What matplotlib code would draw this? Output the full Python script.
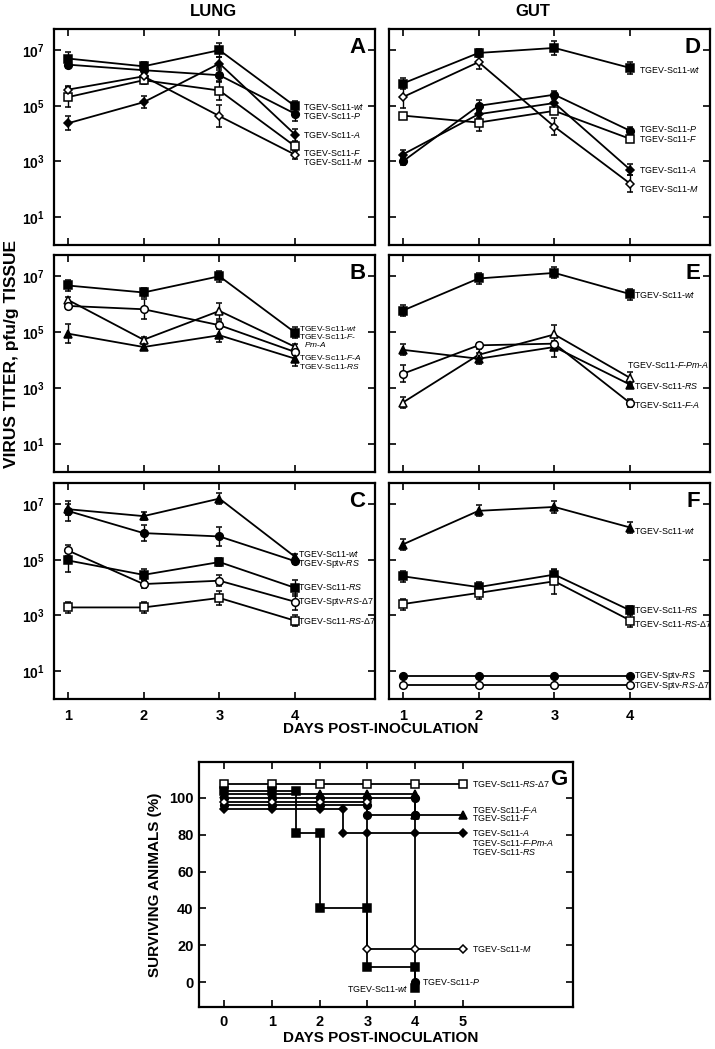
import matplotlib
matplotlib.use('Agg')
import matplotlib.pyplot as plt
import numpy as np

plt.rcParams['font.family'] = ['Liberation Sans', 'DejaVu Sans']
plt.rcParams['mathtext.fontset'] = 'custom'
plt.rcParams['mathtext.rm'] = 'Liberation Sans'
plt.rcParams['mathtext.it'] = 'Liberation Sans:italic'
plt.rcParams['mathtext.bf'] = 'Liberation Sans:bold'

days = [1, 2, 3, 4]

# log10 virus titers (pfu/g tissue) and error half-widths (log10 units)
A_names = ['wt', 'P', 'A', 'F', 'M']
A_titer = [[6.70, 6.42, 7.00, 4.98],
           [6.48, 6.28, 6.10, 4.71],
           [4.37, 5.13, 6.52, 3.96],
           [5.31, 5.92, 5.55, 3.54],
           [5.58, 6.06, 4.63, 3.24]]
A_err = [[0.22, 0.15, 0.25, 0.20],
         [0.12, 0.10, 0.25, 0.25],
         [0.25, 0.22, 0.25, 0.22],
         [0.35, 0.12, 0.35, 0.10],
         [0.15, 0.10, 0.40, 0.15]]
A_lab_y = [4.98, 4.65, 3.96, 3.29, 2.99]

D_names = ['wt', 'P', 'F', 'A', 'M']
D_titer = [[5.80, 6.90, 7.08, 6.36],
           [3.00, 5.00, 5.40, 4.10],
           [4.65, 4.40, 4.82, 3.81],
           [3.25, 4.70, 5.10, 2.70],
           [5.31, 6.57, 4.25, 2.20]]
D_err = [[0.20, 0.15, 0.25, 0.22],
         [0.12, 0.20, 0.15, 0.15],
         [0.05, 0.30, 0.10, 0.10],
         [0.15, 0.15, 0.20, 0.20],
         [0.40, 0.25, 0.30, 0.30]]
D_lab_y = [6.30, 4.16, 3.80, 2.71, 2.02]

B_names = ['wt', 'F-Pm-A', 'F-A', 'RS']
B_titer = [[6.67, 6.42, 7.00, 4.98],
           [6.16, 4.73, 5.76, 4.47],
           [5.94, 5.82, 5.25, 4.29],
           [4.95, 4.47, 4.89, 4.05]]
B_err = [[0.20, 0.15, 0.20, 0.20],
         [0.10, 0.10, 0.30, 0.10],
         [0.10, 0.35, 0.15, 0.10],
         [0.35, 0.10, 0.25, 0.25]]
B_lab_y = [5.12, 4.83, 4.09, 3.76]

E_names = ['wt', 'F-Pm-A', 'RS', 'F-A']
E_titer = [[5.77, 6.92, 7.12, 6.36],
           [2.48, 4.19, 4.92, 3.36],
           [4.37, 4.05, 4.47, 3.12],
           [3.51, 4.53, 4.59, 2.46]]
E_err = [[0.20, 0.20, 0.20, 0.20],
         [0.20, 0.20, 0.35, 0.20],
         [0.20, 0.20, 0.35, 0.10],
         [0.30, 0.10, 0.10, 0.15]]
E_lab_y = [6.36, 3.83, 3.08, 2.40]

C_names = ['wt', 'RS', 'RS', 'RS-\u03947', 'RS-\u03947']
C_virus = ['Sc11', 'Sptv', 'Sc11', 'Sptv', 'Sc11']
C_titer = [[6.82, 6.57, 7.20, 5.10],
           [6.76, 5.96, 5.84, 4.95],
           [4.98, 4.46, 4.92, 3.99],
           [5.34, 4.13, 4.25, 3.49],
           [3.29, 3.29, 3.63, 2.81]]
C_err = [[0.20, 0.15, 0.20, 0.10],
         [0.35, 0.30, 0.35, 0.10],
         [0.40, 0.20, 0.15, 0.30],
         [0.20, 0.15, 0.20, 0.30],
         [0.20, 0.20, 0.25, 0.20]]
C_lab_y = [5.23, 4.86, 4.01, 3.49, 2.81]

F_names = ['wt', 'RS', 'RS-\u03947', 'RS', 'RS-\u03947']
F_virus = ['Sc11', 'Sc11', 'Sc11', 'Sptv', 'Sptv']
F_titer = [[5.55, 6.76, 6.90, 6.16],
           [4.41, 4.02, 4.47, 3.18],
           [3.41, 3.81, 4.23, 2.82],
           [0.82, 0.82, 0.82, 0.82],
           [0.49, 0.49, 0.49, 0.49]]
F_err = [[0.20, 0.20, 0.20, 0.20],
         [0.20, 0.20, 0.15, 0.15],
         [0.20, 0.20, 0.45, 0.25],
         [0.0, 0.0, 0.0, 0.0],
         [0.0, 0.0, 0.0, 0.0]]
F_lab_y = [6.06, 3.18, 2.69, 0.84, 0.47]

# survival (%), step curves
G_names = ['RS-\u03947', 'wt', 'F-A', 'F', 'P', 'M', 'A']
G_days = [[0, 1, 2, 3, 4, 5],
          [0, 1, 1.5, 1.5, 2, 2, 3, 3, 4, 4],
          [0, 1, 2, 3, 4, 4, 5],
          [0, 1, 2, 3, 4, 4],
          [0, 1, 2, 3, 3, 4, 4],
          [0, 1, 2, 3, 3, 4, 5],
          [0, 1, 2, 2.5, 2.5, 3, 4, 5]]
G_surv = [[107.5, 107.5, 107.5, 107.5, 107.5, 107.5],
          [104, 104, 104, 81, 81, 40, 40, 8, 8, -3],
          [102, 102, 102, 102, 102, 91, 91],
          [100, 100, 100, 100, 100, 91],
          [96, 96, 96, 96, 91, 91, 0],
          [98, 98, 98, 98, 18, 18, 18],
          [94, 94, 94, 94, 81, 81, 81, 81]]

# marker styles: (marker, filled)
A_style = [('s', 1), ('o', 1), ('D', 1), ('s', 0), ('D', 0)]
D_style = [('s', 1), ('o', 1), ('s', 0), ('D', 1), ('D', 0)]
B_style = [('s', 1), ('^', 0), ('o', 0), ('^', 1)]
E_style = [('s', 1), ('^', 0), ('^', 1), ('o', 0)]
C_style = [('^', 1), ('o', 1), ('s', 1), ('o', 0), ('s', 0)]
F_style = [('^', 1), ('s', 1), ('s', 0), ('o', 1), ('o', 0)]
G_style = [('s', 0), ('s', 1), ('^', 1), ('o', 1), ('o', 1), ('D', 0), ('D', 1)]

W, H = 715, 1049
fig = plt.figure(figsize=(W / 100, H / 100), dpi=100)


def rect(l, t, r, b):
    return [l / W, 1 - b / H, (r - l) / W, (b - t) / H]


def strain(name, virus='Sc11'):
    parts = []
    for p in name.split('-'):
        parts.append(p if '\u0394' in p else r'$\mathit{' + p + '}$')
    return 'TGEV-' + virus + '-' + '-'.join(parts)


def titer_panel(ax, letter, titer, err, style, lab_y, lab_text, lab_x,
                xlabels=False, ylabels=True, lab_size=6.4):
    for vals, e, (m, filled) in zip(titer, err, style):
        v = np.array(vals)
        e = np.array(e)
        y = 10 ** v
        yerr = [y - 10 ** (v - e), 10 ** (v + e) - y]
        ms = 5.5 if m != 'D' else 4.5
        ax.errorbar(days, y, yerr=yerr, color='black', lw=1.3,
                    marker=m, ms=ms, mfc='black' if filled else 'white',
                    mec='black', mew=1.1, elinewidth=1.0, capsize=2.2,
                    capthick=1.0, zorder=3)
    for ly, txt, lx in zip(lab_y, lab_text, lab_x):
        ax.text(lx, 10 ** ly, txt, fontsize=lab_size, va='center', ha='left')
    ax.set_yscale('log')
    ax.set_ylim(1, 10 ** 7.76)
    ax.set_xlim(0.82, 5.05)
    ax.set_yticks([10, 1e3, 1e5, 1e7])
    ax.yaxis.set_minor_locator(matplotlib.ticker.NullLocator())
    if ylabels:
        ax.set_yticklabels([r'$\mathbf{10^{1}}$', r'$\mathbf{10^{3}}$',
                            r'$\mathbf{10^{5}}$', r'$\mathbf{10^{7}}$'],
                           fontsize=10)
    else:
        ax.set_yticklabels([])
    ax.set_xticks(days)
    if xlabels:
        ax.set_xticklabels([str(d) for d in days], fontsize=10.5,
                           fontweight='bold')
    else:
        ax.set_xticklabels([])
    ax.tick_params(direction='in', top=True, right=True, length=5,
                   width=1.2, pad=7)
    for s in ax.spines.values():
        s.set_linewidth(1.6)
    ax.text(0.97, 0.965, letter, transform=ax.transAxes, ha='right',
            va='top', fontsize=16, fontweight='bold')


axA = fig.add_axes(rect(54, 29, 375, 245))
titer_panel(axA, 'A', A_titer, A_err, A_style, A_lab_y,
            [strain(n) for n in A_names], [4.1] * 5)

axB = fig.add_axes(rect(54, 255, 375, 472))
B_text = [strain(n) for n in B_names]
B_text[1] = 'TGEV-Sc11-$\\mathit{F}$-'
titer_panel(axB, 'B', B_titer, B_err, B_style, B_lab_y, B_text, [4.05] * 4,
            lab_size=6.0)
axB.text(4.12, 10 ** 4.56, '$\\mathit{Pm}$-$\\mathit{A}$', fontsize=6.0,
         va='center', ha='left')

axC = fig.add_axes(rect(54, 483, 375, 699))
titer_panel(axC, 'C', C_titer, C_err, C_style, C_lab_y,
            [strain(n, v) for n, v in zip(C_names, C_virus)], [4.03] * 5,
            xlabels=True)

axD = fig.add_axes(rect(389, 29, 710, 245))
titer_panel(axD, 'D', D_titer, D_err, D_style, D_lab_y,
            [strain(n) for n in D_names], [4.12] * 5, ylabels=False)

axE = fig.add_axes(rect(389, 255, 710, 472))
titer_panel(axE, 'E', E_titer, E_err, E_style, E_lab_y,
            [strain(n) for n in E_names], [4.05, 3.95, 4.05, 4.05],
            ylabels=False)

axF = fig.add_axes(rect(389, 483, 710, 699))
titer_panel(axF, 'F', F_titer, F_err, F_style, F_lab_y,
            [strain(n, v) for n, v in zip(F_names, F_virus)], [4.05] * 5,
            xlabels=True, ylabels=False)

# survival panel
axG = fig.add_axes(rect(199, 762, 573, 1007))
for xs, ys, (m, filled) in zip(G_days, G_surv, G_style):
    ax_ms = 5.5 if m != 'D' else 4.5
    axG.plot(xs, ys, color='black', lw=1.3, marker=m, ms=ax_ms,
             mfc='black' if filled else 'white', mec='black', mew=1.1,
             zorder=3)
G_lab = [(5.19, 107.6, strain('RS-\u03947'), 'left'),
         (5.19, 93.8, strain('F-A'), 'left'),
         (5.19, 88.9, strain('F'), 'left'),
         (5.19, 81.1, strain('A'), 'left'),
         (5.19, 75.9, strain('F-Pm-A'), 'left'),
         (5.19, 70.8, strain('RS'), 'left'),
         (5.19, 17.9, strain('M'), 'left'),
         (4.14, 0.2, strain('P'), 'left'),
         (3.85, -3.3, strain('wt'), 'right')]
for gx, gy, txt, ha in G_lab:
    axG.text(gx, gy, txt, fontsize=6.4, va='center', ha=ha)
axG.set_xlim(-0.52, 7.3)
axG.set_ylim(-13.5, 119.5)
axG.set_xticks([0, 1, 2, 3, 4, 5])
axG.set_xticklabels(['0', '1', '2', '3', '4', '5'], fontsize=10.5,
                    fontweight='bold')
axG.set_yticks([0, 20, 40, 60, 80, 100])
axG.set_yticklabels(['0', '20', '40', '60', '80', '100'], fontsize=10.5,
                    fontweight='bold')
axG.tick_params(axis='x', direction='in', top=True, length=5, width=1.2,
                pad=6)
axG.tick_params(axis='y', direction='in', right=True, length=5, width=1.2,
                pad=4)
for s in axG.spines.values():
    s.set_linewidth(1.6)
axG.text(0.985, 0.97, 'G', transform=axG.transAxes, ha='right', va='top',
         fontsize=16, fontweight='bold')

# figure labels
fig.text(213 / W, 1 - 12 / H, 'LUNG', ha='center', va='center',
         fontsize=12, fontweight='bold')
fig.text(533 / W, 1 - 12 / H, 'GUT', ha='center', va='center',
         fontsize=12, fontweight='bold')
fig.text(12 / W, 1 - 354 / H, 'VIRUS TITER, pfu/g TISSUE', rotation=90,
         ha='center', va='center', fontsize=12.5, fontweight='bold')
fig.text(381 / W, 1 - 729 / H, 'DAYS POST-INOCULATION', ha='center',
         va='center', fontsize=11, fontweight='bold')
fig.text(155 / W, 1 - 885 / H, 'SURVIVING ANIMALS (%)', rotation=90,
         ha='center', va='center', fontsize=11, fontweight='bold')
fig.text(381 / W, 1 - 1038 / H, 'DAYS POST-INOCULATION', ha='center',
         va='center', fontsize=11, fontweight='bold')

fig.savefig('out.png', dpi=100)
